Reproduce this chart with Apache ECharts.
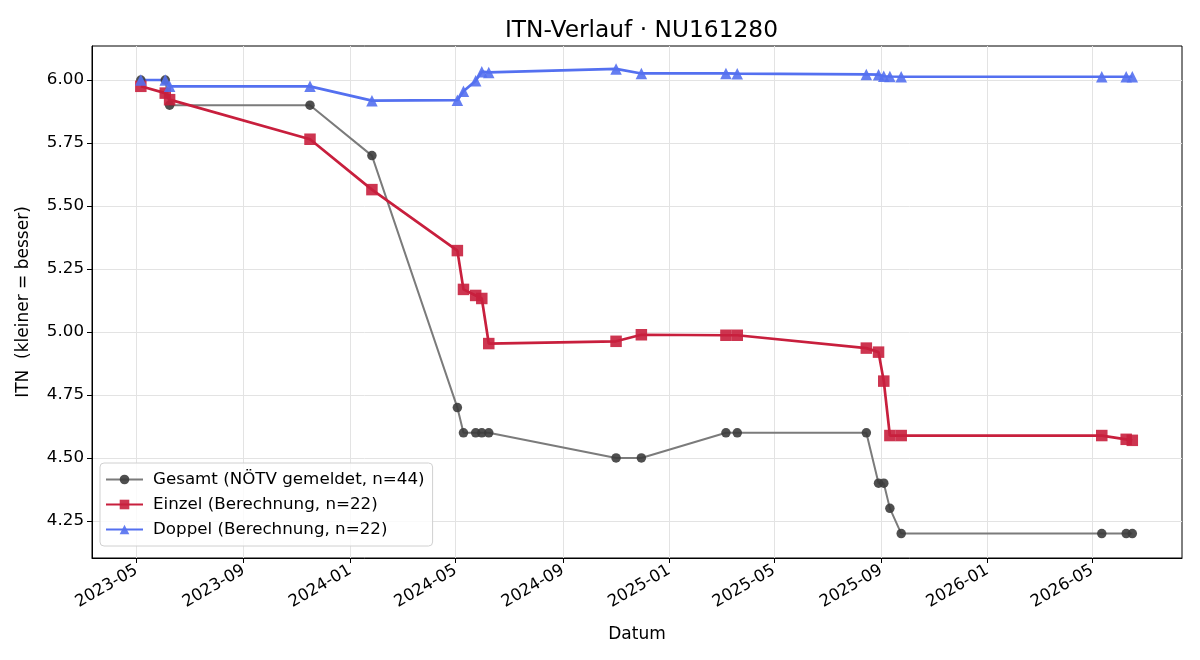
<!DOCTYPE html>
<html>
<head>
<meta charset="utf-8">
<title>ITN-Verlauf</title>
<script src="https://cdn.jsdelivr.net/npm/echarts@6/dist/echarts.min.js"></script>
<style>
  html, body { margin: 0; padding: 0; background: #fff; }
  #chart { width: 1200px; height: 660px; }
</style>
</head>
<body>
<div id="chart"></div>
<script>
// Daten
const dates = [
  '2023-05-06', '2023-06-03', '2023-06-08', '2023-11-16', '2024-01-26',
  '2024-05-03', '2024-05-10', '2024-05-24', '2024-05-31', '2024-06-08',
  '2024-11-01', '2024-11-30', '2025-03-07', '2025-03-20', '2025-08-15',
  '2025-08-29', '2025-09-04', '2025-09-11', '2025-09-24', '2026-05-12',
  '2026-06-09', '2026-06-16'
]
const gesamt = [6.00, 6.00, 5.90, 5.90, 5.70, 4.70, 4.60, 4.60, 4.60, 4.60,
  4.50, 4.50, 4.60, 4.60, 4.60, 4.40, 4.40, 4.30, 4.20, 4.20, 4.20, 4.20]
const einzel = [5.975, 5.948, 5.922, 5.765, 5.565, 5.323, 5.169, 5.145, 5.133, 4.954,
  4.963, 4.989, 4.987, 4.987, 4.936, 4.920, 4.805, 4.589, 4.589, 4.589, 4.574, 4.570]
const doppel = [6.000, 6.000, 5.975, 5.975, 5.918, 5.920, 5.955, 5.997, 6.033, 6.030,
  6.044, 6.026, 6.026, 6.025, 6.022, 6.021, 6.015, 6.014, 6.013, 6.013, 6.013, 6.013]
const xTicks = ['2023-05', '2023-09', '2024-01', '2024-05', '2024-09', '2025-01',
  '2025-05', '2025-09', '2026-01', '2026-05']
const yTicks = [4.25, 4.50, 4.75, 5.00, 5.25, 5.50, 5.75, 6.00]

// Datum -> Tage seit Epoche (UTC), damit die Achse linear bleibt
const toDay = (s) => {
  const p = s.split('-').map(Number)
  return Date.UTC(p[0], p[1] - 1, p[2] || 1) / 86400000
}
const fmtDay = (d) => {
  const dt = new Date(Math.round(d) * 86400000)
  return dt.getUTCFullYear() + '-' + String(dt.getUTCMonth() + 1).padStart(2, '0')
}
const pairs = (vals) => dates.map((d, i) => [toDay(d), vals[i]])
const xTickValues = xTicks.map(toDay)

const font = 'DejaVu Sans'
const chart = echarts.init(document.getElementById('chart'), null, { renderer: 'canvas' })

chart.setOption({
  animation: false,
  textStyle: { fontFamily: font },
  title: {
    text: 'ITN-Verlauf · NU161280',
    left: 500,
    top: 14,
    textStyle: { fontFamily: font, fontSize: 23.3, fontWeight: 'normal', color: '#000' }
  },
  grid: {
    left: 92, right: 18, top: 46, bottom: 102,
    show: true, borderColor: '#000', borderWidth: 1, backgroundColor: 'transparent'
  },
  legend: {
    orient: 'vertical',
    left: 100, top: 463,
    itemWidth: 37, itemHeight: 12, itemGap: 8,
    padding: [8, 8, 8, 5],
    backgroundColor: 'rgba(255,255,255,0.8)',
    borderColor: '#d0d0d0', borderWidth: 1, borderRadius: 4,
    textStyle: { fontFamily: font, fontSize: 16.7, color: '#000', padding: [0, 0, 0, 5] },
    data: ['Gesamt (NÖTV gemeldet, n=44)', 'Einzel (Berechnung, n=22)', 'Doppel (Berechnung, n=22)']
  },
  xAxis: {
    type: 'value',
    min: toDay('2023-03-11'),
    max: toDay('2026-08-12'),
    name: 'Datum',
    nameLocation: 'middle',
    nameGap: 68,
    nameTextStyle: { fontFamily: font, fontSize: 17, color: '#000' },
    axisLine: { show: true, onZero: false, lineStyle: { color: '#000', width: 1 } },
    axisTick: { show: true, length: 5, lineStyle: { color: '#000' }, customValues: xTickValues },
    axisLabel: {
      customValues: xTickValues,
      rotate: 30,
      margin: 11,
      fontFamily: font, fontSize: 16.5, color: '#000',
      formatter: (v) => fmtDay(v)
    },
    splitLine: { show: true, lineStyle: { color: '#e3e3e3', width: 1 } }
  },
  yAxis: {
    type: 'value',
    min: 4.103,
    max: 6.135,
    name: 'ITN  (kleiner = besser)',
    nameLocation: 'middle',
    nameGap: 60,
    nameTextStyle: { fontFamily: font, fontSize: 17, color: '#000' },
    axisLine: { show: true, onZero: false, lineStyle: { color: '#000', width: 1 } },
    axisTick: { show: true, length: 5, lineStyle: { color: '#000' }, customValues: yTicks },
    axisLabel: {
      customValues: yTicks,
      margin: 8,
      fontFamily: font, fontSize: 16.7, color: '#000',
      formatter: (v) => v.toFixed(2)
    },
    splitLine: { show: true, lineStyle: { color: '#e3e3e3', width: 1 } }
  },
  series: [
    {
      name: 'Gesamt (NÖTV gemeldet, n=44)',
      type: 'line',
      data: pairs(gesamt),
      symbol: 'circle',
      symbolSize: 9.5,
      showAllSymbol: true,
      lineStyle: { color: '#7b7b7b', width: 2 },
      itemStyle: { color: '#3c3c3c', opacity: 0.9 }
    },
    {
      name: 'Einzel (Berechnung, n=22)',
      type: 'line',
      data: pairs(einzel),
      symbol: 'rect',
      symbolSize: 11.5,
      showAllSymbol: true,
      lineStyle: { color: '#c81f3d', width: 2.7 },
      itemStyle: { color: '#c81f3d', opacity: 0.9 }
    },
    {
      name: 'Doppel (Berechnung, n=22)',
      type: 'line',
      data: pairs(doppel),
      symbol: 'triangle',
      symbolSize: 11.5,
      showAllSymbol: true,
      lineStyle: { color: '#5470f0', width: 2.7 },
      itemStyle: { color: '#5470f0', opacity: 0.9 }
    }
  ]
})

window.onresize = function () {
  chart.resize()
}
</script>
</body>
</html>
